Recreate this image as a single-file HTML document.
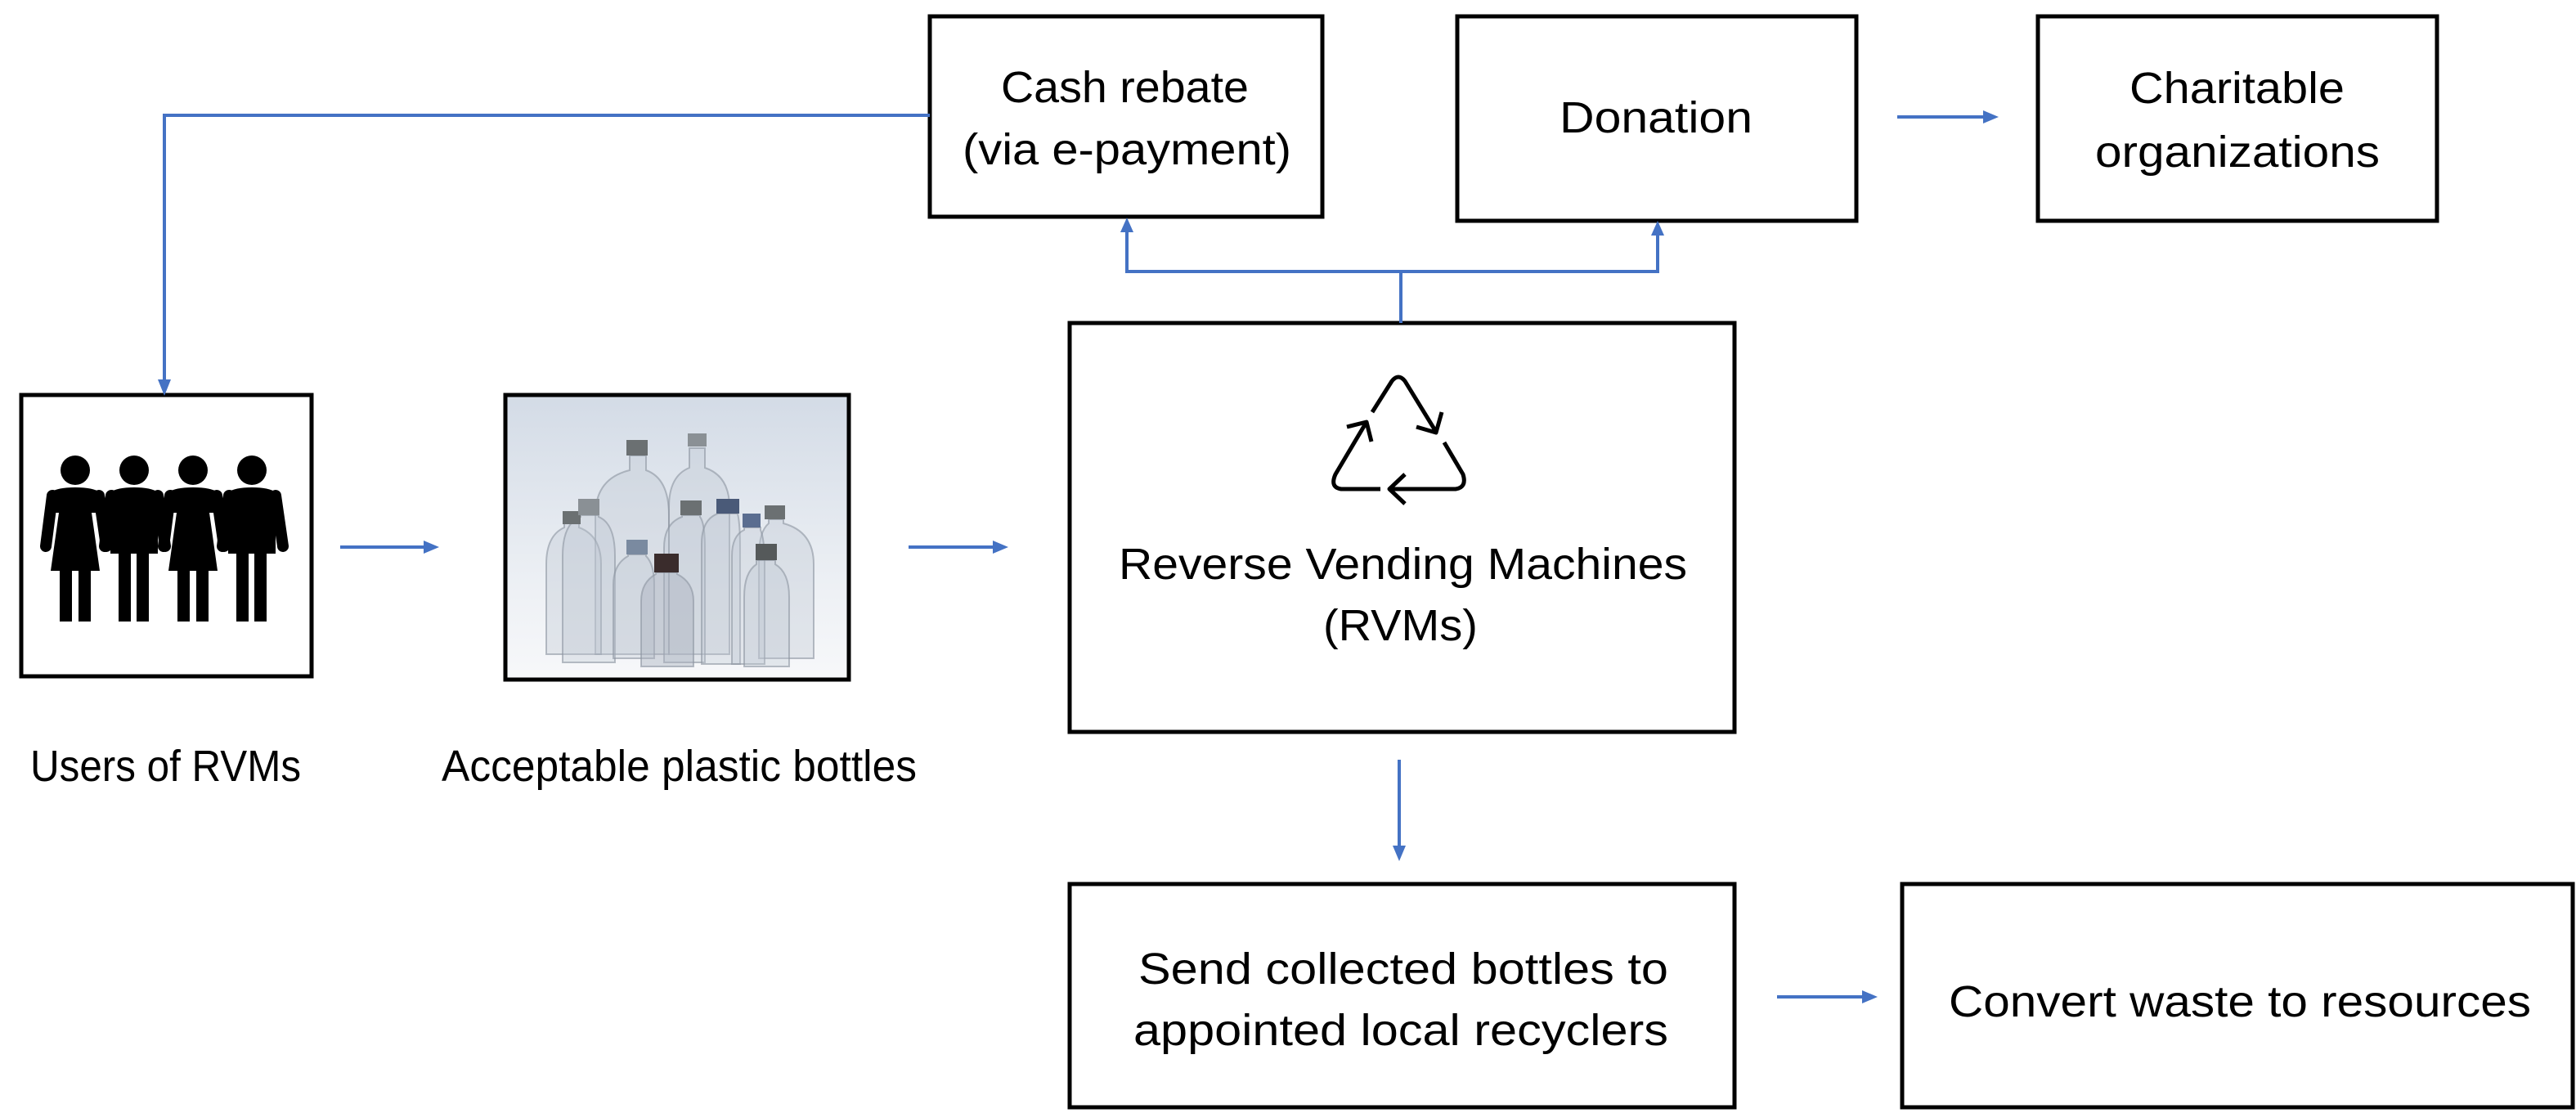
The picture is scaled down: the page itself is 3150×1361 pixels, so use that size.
<!DOCTYPE html>
<html><head><meta charset="utf-8"><style>html,body{margin:0;padding:0;background:#fff}svg{display:block}</style></head>
<body>
<svg width="3150" height="1361" viewBox="0 0 3150 1361" xmlns="http://www.w3.org/2000/svg">
<defs>
<linearGradient id="bg" x1="0" y1="0" x2="0" y2="1"><stop offset="0" stop-color="#d3dbe6"/><stop offset="0.7" stop-color="#eef1f5"/><stop offset="1" stop-color="#f7f8fa"/></linearGradient>
</defs>
<g fill="none" stroke="#000" stroke-width="5">
<rect x="1137" y="20" width="480" height="245"/>
<rect x="1782" y="20" width="488" height="250"/>
<rect x="2492" y="20" width="488" height="250"/>
<rect x="1308" y="395" width="813" height="500"/>
<rect x="1308" y="1081" width="813" height="273"/>
<rect x="2326" y="1081" width="820" height="273"/>
<rect x="26" y="483" width="355" height="344"/>
</g>
<rect x="618" y="483" width="420" height="348" fill="url(#bg)"/>
<g stroke="rgba(140,148,160,0.6)" stroke-width="2" fill="rgba(190,198,210,0.35)">
<path d="M728 800 V630 Q728 585 770 575 V557 H790 V575 Q818 585 818 630 V800 Z"/>
<path d="M818 800 V620 Q818 582 843 572 V548 H862 V572 Q892 582 892 620 V800 Z"/>
<path d="M668 800 V690 Q668 655 690 645 V640 H708 V645 Q735 655 735 690 V800 Z"/>
<path d="M688 810 V680 Q688 640 710 632 V630 H732 V632 Q752 640 752 680 V810 Z"/>
<path d="M928 805 V680 Q928 650 940 640 V635 H958 V640 Q995 650 995 690 V805 Z"/>
<path d="M812 810 V670 Q812 640 834 632 V630 H856 V632 Q862 640 862 670 V810 Z"/>
<path d="M858 812 V665 Q858 635 878 628 V628 H902 V628 Q905 640 905 670 V812 Z"/>
<path d="M895 812 V680 Q895 655 910 648 V645 H930 V648 Q935 660 935 690 V812 Z"/>
<path d="M750 805 V715 Q750 690 768 680 V678 H790 V680 Q800 690 800 715 V805 Z"/>
<path d="M910 815 V730 Q910 700 925 690 V685 H948 V690 Q965 700 965 730 V815 Z"/>
<path d="M784 815 V735 Q784 712 802 702 V700 H828 V702 Q848 712 848 735 V815 Z" fill="rgba(170,178,190,0.45)"/>
</g>
<g fill="#6b7072">
<rect x="766" y="538" width="26" height="19"/><rect x="841" y="530" width="23" height="16" fill="#8a9095"/>
<rect x="688" y="625" width="22" height="16"/><rect x="707" y="610" width="26" height="20" fill="#8a9095"/>
<rect x="766" y="660" width="26" height="18" fill="#7a8aa0"/><rect x="800" y="677" width="30" height="23" fill="#3a2c2c"/>
<rect x="832" y="612" width="26" height="18"/><rect x="876" y="610" width="28" height="18" fill="#4a5a78"/>
<rect x="908" y="628" width="22" height="17" fill="#5a6d90"/><rect x="935" y="618" width="25" height="17"/>
<rect x="924" y="665" width="26" height="20" fill="#55595a"/>
</g>
<rect x="618" y="483" width="420" height="348" fill="none" stroke="#000" stroke-width="5"/>
<g fill="#000" stroke="none">
<circle cx="92" cy="575" r="18"/><circle cx="164" cy="575" r="18"/><circle cx="236" cy="575" r="18"/><circle cx="308" cy="575" r="18"/>
<path d="M62 602 Q70 596 92 596 Q114 596 122 602 L124 627 L112 627 L122 698 L62 698 L72 627 L60 627 Z"/><rect x="73" y="696" width="15" height="64"/><rect x="96" y="696" width="15" height="64"/>
<g transform="translate(144,0)"><path d="M62 602 Q70 596 92 596 Q114 596 122 602 L124 627 L112 627 L122 698 L62 698 L72 627 L60 627 Z"/><rect x="73" y="696" width="15" height="64"/><rect x="96" y="696" width="15" height="64"/></g>
<path d="M135 602 Q143 596 164 596 Q185 596 193 602 L193 677 L135 677 Z"/><rect x="145" y="675" width="15" height="85"/><rect x="167" y="675" width="15" height="85"/>
<path d="M279 602 Q287 596 308 596 Q329 596 337 602 L337 677 L279 677 Z"/><rect x="289" y="675" width="15" height="85"/><rect x="311" y="675" width="15" height="85"/>
</g>
<g stroke="#000" stroke-width="14" stroke-linecap="round">
<line x1="64" y1="606" x2="56" y2="668"/><line x1="121" y1="606" x2="130" y2="668"/>
<line x1="136" y1="606" x2="128" y2="668"/><line x1="193" y1="606" x2="202" y2="668"/>
<line x1="208" y1="606" x2="200" y2="668"/><line x1="265" y1="606" x2="274" y2="668"/>
<line x1="280" y1="606" x2="272" y2="668"/><line x1="337" y1="606" x2="346" y2="668"/>
</g>
<g fill="none" stroke="#000" stroke-width="5" stroke-linejoin="round">
<path d="M1678 504 L1702 466 Q1710 456 1718 466 L1756 528"/><path d="M1732 522 L1756 529 L1763 504"/>
<path d="M1766 541 L1789 580 Q1794 596 1780 598 L1699 598"/><path d="M1718 580 L1699 598 L1718 616"/>
<path d="M1688 598 L1640 598 Q1626 596 1633 580 L1671 516"/><path d="M1647 522 L1671 516 L1677 540"/>
</g>
<g fill="none" stroke="#4472C4" stroke-width="4">
<polyline points="1137,141 201,141 201,466"/>
<line x1="416" y1="669" x2="520" y2="669"/>
<line x1="1111" y1="669" x2="1216" y2="669"/>
<polyline points="1378,282 1378,332 2027,332 2027,286"/>
<line x1="1713" y1="332" x2="1713" y2="395"/>
<line x1="2320" y1="143" x2="2427" y2="143"/>
<line x1="1711" y1="929" x2="1711" y2="1036"/>
<line x1="2173" y1="1219" x2="2279" y2="1219"/>
</g>
<g fill="#4472C4">
<polygon points="193,464 209,464 201,484"/>
<polygon points="518,661 518,677 537,669"/>
<polygon points="1214,661 1214,677 1233,669"/>
<polygon points="1370,284 1386,284 1378,266"/>
<polygon points="2019,288 2035,288 2027,270"/>
<polygon points="2425,135 2425,151 2444,143"/>
<polygon points="1703,1034 1719,1034 1711,1053"/>
<polygon points="2277,1211 2277,1227 2296,1219"/>
</g>
<g font-family="Liberation Sans, Arial, sans-serif" font-size="54" fill="#000">
<text x="1224" y="125" textLength="303" lengthAdjust="spacingAndGlyphs">Cash rebate</text>
<text x="1177" y="201" textLength="402" lengthAdjust="spacingAndGlyphs">(via e-payment)</text>
<text x="1907" y="162" textLength="236" lengthAdjust="spacingAndGlyphs">Donation</text>
<text x="2604" y="126" textLength="263" lengthAdjust="spacingAndGlyphs">Charitable</text>
<text x="2562" y="204" textLength="348" lengthAdjust="spacingAndGlyphs">organizations</text>
<text x="1368" y="708" textLength="695" lengthAdjust="spacingAndGlyphs">Reverse Vending Machines</text>
<text x="1618" y="783" textLength="189" lengthAdjust="spacingAndGlyphs">(RVMs)</text>
<text x="1392" y="1203" textLength="648" lengthAdjust="spacingAndGlyphs">Send collected bottles to</text>
<text x="1386" y="1278" textLength="654" lengthAdjust="spacingAndGlyphs">appointed local recyclers</text>
<text x="2383" y="1243" textLength="712" lengthAdjust="spacingAndGlyphs">Convert waste to resources</text>
<text x="37" y="955" textLength="331" lengthAdjust="spacingAndGlyphs">Users of RVMs</text>
<text x="540" y="955" textLength="581" lengthAdjust="spacingAndGlyphs">Acceptable plastic bottles</text>
</g>
</svg>
</body></html>
